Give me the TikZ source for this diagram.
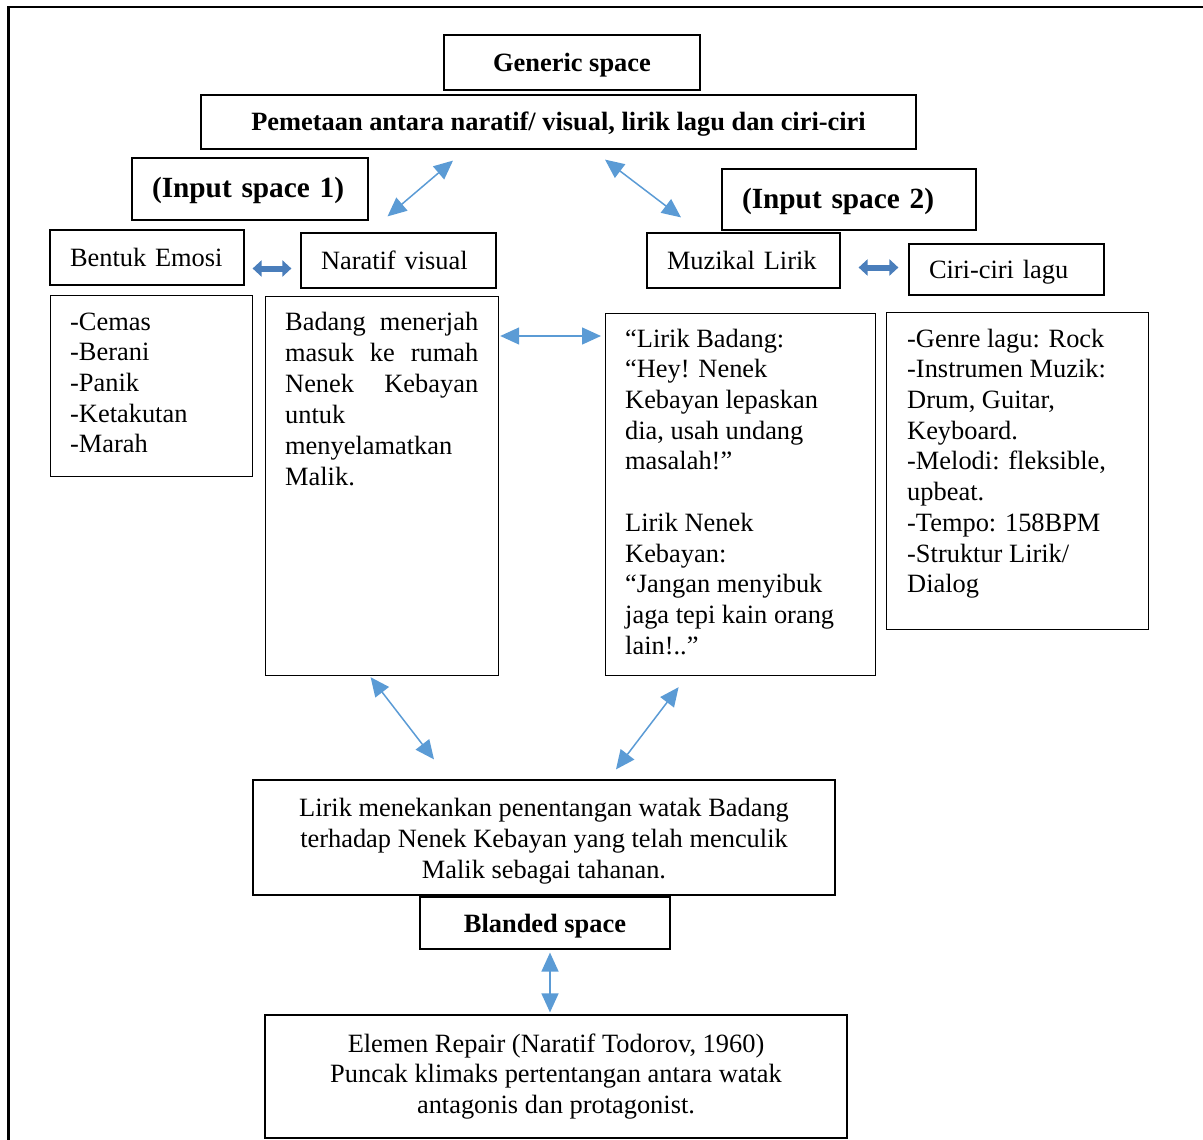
\documentclass[tikz,border=0pt]{standalone}
\usepackage{fontspec}
\setmainfont{Liberation Serif}
\usetikzlibrary{arrows.meta}
\definecolor{lineblue}{RGB}{91,155,213}
\definecolor{fatblue}{RGB}{74,126,187}
\begin{document}
\begin{tikzpicture}[x=1pt,y=1pt]
    \tikzstyle{every node}+=[font=\fontsize{26.4pt}{30.7pt}\selectfont]
    \tikzstyle{box}=[draw=black, line width=1.2pt]
    \tikzstyle{titlebox}=[box, font=\fontsize{26.4pt}{30.7pt}\selectfont\bfseries, text height=21pt, text depth=3pt]
    \tikzstyle{inputbox}=[box, align=left, inner xsep=20pt, font=\fontsize{29.3pt}{34pt}\selectfont\bfseries, text height=22pt, text depth=5pt]
    \tikzstyle{namebox}=[box, align=left, inner xsep=20pt, text height=21pt, text depth=3pt]
    \tikzstyle{listbox}=[box, anchor=north west]
    \tikzstyle{listtext}=[anchor=north west, align=left, inner sep=0pt]
    \tikzstyle{link}=[lineblue, line width=1.5pt, {Triangle[length=19pt,width=17pt]}-{Triangle[length=19pt,width=17pt]}]
    \tikzstyle{fatlink}=[fatblue, line width=6pt, {Triangle[length=9pt,width=16pt]}-{Triangle[length=9pt,width=16pt]}]
    \useasboundingbox (0,0) rectangle (1203,-1140);
    \draw [line width=2.5pt] (8.5,-1150) -- (8.5,-7) -- (1215,-7);
    % generic space
    \node [titlebox, minimum width=256pt, minimum height=55pt] (generic) at (572,-62.5) {Generic space};
    \node [titlebox, minimum width=715pt, minimum height=54pt] (pemetaan) at (558.5,-122) {Pemetaan antara naratif/ visual, lirik lagu dan ciri-ciri};
    % input spaces
    \node [inputbox, text width=196pt, minimum height=62pt] (input1) at (250,-189) {(Input space 1)};
    \node [inputbox, text width=214pt, minimum height=61pt] (input2) at (849,-199.5) {(Input space 2)};
    \node [namebox, text width=154pt, minimum height=55pt] (emosi) at (147,-257.5) {Bentuk Emosi};
    \node [namebox, text width=155pt, minimum height=55pt] (naratif) at (398.5,-260.5) {Naratif visual};
    \node [namebox, text width=153pt, minimum height=55pt] (muzik) at (743.5,-260.5) {Muzikal Lirik};
    \node [namebox, text width=155pt, minimum height=51pt] (ciri) at (1006.5,-269.5) {Ciri-ciri lagu};
    % lists
    \node [listbox, minimum width=202pt, minimum height=181pt] (emolist) at (50,-295) {};
    \node [listtext] (emotext) at (70,-308.5) {\strut-Cemas\\-Berani\\-Panik\\-Ketakutan\\-Marah};
    \node [listbox, minimum width=233pt, minimum height=379pt] (badang) at (265,-296) {};
    \node [listtext, text width=193pt, font=\fontsize{26.4pt}{31pt}\selectfont] (badangtext) at (285,-308.5) {\strut\makebox[193pt][l]{Badang\hfill menerjah}\\
        \makebox[193pt][l]{masuk\hfill ke\hfill rumah}\\
        \makebox[193pt][l]{Nenek\hfill Kebayan}\\
        untuk\\
        menyelamatkan\\
        Malik.};
    \node [listbox, minimum width=270pt, minimum height=362pt] (lirik) at (605,-313) {};
    \node [listtext] (liriktext) at (625,-325.5) {\strut“Lirik Badang:\\“Hey! Nenek\\Kebayan lepaskan\\dia, usah undang\\masalah!”\\ \mbox{}\\
        Lirik Nenek\\Kebayan:\\“Jangan menyibuk\\jaga tepi kain orang\\lain!..”};
    \node [listbox, minimum width=262pt, minimum height=317pt] (genre) at (886,-312) {};
    \node [listtext] (genretext) at (907,-325.5) {\strut-Genre lagu: Rock\\-Instrumen Muzik:\\Drum, Guitar,\\Keyboard.\\-Melodi: fleksible,\\upbeat.\\-Tempo: 158BPM\\-Struktur Lirik/\\Dialog};
    % blended space
    \node [box, align=center, minimum width=582pt, minimum height=115pt] (hasil) at (544,-837.5) {\rule{0pt}{26pt}Lirik menekankan penentangan watak Badang\\terhadap Nenek Kebayan yang telah menculik\\Malik sebagai tahanan.};
    \node [titlebox, minimum width=250pt, minimum height=52pt] (blanded) at (545,-923) {Blanded space};
    \node [box, align=center, minimum width=582pt, minimum height=123pt] (elemen) at (556,-1076.5) {Elemen Repair (Naratif Todorov, 1960)\\Puncak klimaks pertentangan antara watak\\antagonis dan protagonist.};
    % arrows
    \draw [fatlink] ([shift={(8,-11)}]emosi.east) -- ([shift={(-9,-8)}]naratif.west);
    \draw [fatlink] ([shift={(18,-7)}]muzik.east) -- ([shift={(-10,2)}]ciri.west);
    \draw [link] ([shift={(-11,16)}]naratif.north) -- ([shift={(-105.5,-11)}]pemetaan.south);
    \draw [link] ([shift={(-62.5,15)}]muzik.north) -- ([shift={(46.5,-10)}]pemetaan.south);
    \draw [link] ([shift={(1,-40)}]badang.north east) -- ([shift={(-4,-23)}]lirik.north west);
    \draw [link] ([shift={(-11.5,-1)}]badang.south) -- ([shift={(-110,20)}]hasil.north);
    \draw [link] ([shift={(-62,-11)}]lirik.south) -- ([shift={(72,10)}]hasil.north);
    \draw [link] ([shift={(5,-3)}]blanded.south) -- ([shift={(-6,2)}]elemen.north);
\end{tikzpicture}
\end{document}
